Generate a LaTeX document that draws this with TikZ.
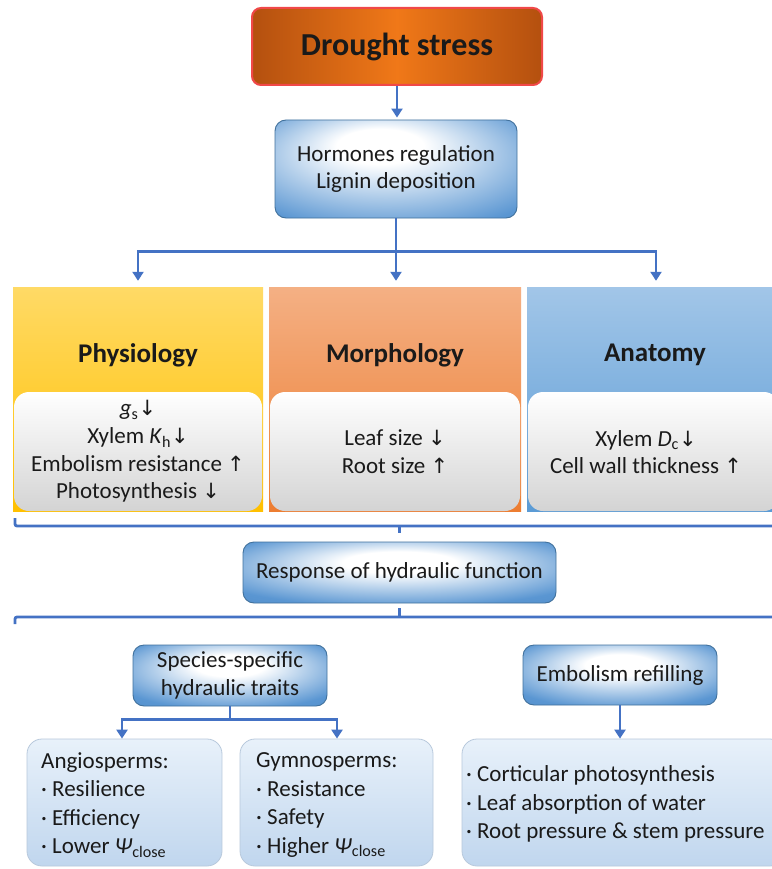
\documentclass[tikz,border=0pt]{standalone}
\usepackage{fontspec}
\setmainfont{Carlito}
\newfontfamily\arrowfont{DejaVu Sans}
\usetikzlibrary{arrows.meta}
\definecolor{connc}{HTML}{4472C4}
\definecolor{boxblue}{HTML}{5A96D2}
\definecolor{boxdeep}{HTML}{4A86C4}
\definecolor{boxborder}{HTML}{41719C}
\definecolor{txt}{HTML}{1A1A1A}
\definecolor{dred}{HTML}{F04848}
\definecolor{ddark}{HTML}{B4500F}
\definecolor{dlight}{HTML}{F07818}
\definecolor{ytop}{HTML}{FFDA66}
\definecolor{ybot}{HTML}{FFC000}
\definecolor{otop}{HTML}{F4B084}
\definecolor{obot}{HTML}{ED7D31}
\definecolor{btop}{HTML}{A2C6E8}
\definecolor{bbot}{HTML}{5B9BD5}
\definecolor{lbtop}{HTML}{E8F1FA}
\definecolor{lbbot}{HTML}{C0D6EE}
\definecolor{lbborder}{HTML}{B8C9DC}
\pgfdeclareradialshading{hormshade}{\pgfpoint{-4bp}{14bp}}{color(0bp)=(white); color(9bp)=(white); color(36bp)=(boxblue); color(50bp)=(boxdeep)}
\pgfdeclareradialshading{wideshade}{\pgfpoint{0bp}{10bp}}{color(0bp)=(white); color(9bp)=(white); color(32bp)=(boxblue); color(50bp)=(boxdeep)}
\newcommand\myDown{{\arrowfont\fontsize{21}{21}\selectfont ↓}}
\newcommand\myUp{{\arrowfont\fontsize{21}{21}\selectfont ↑}}
\begin{document}
\begin{tikzpicture}[x=1pt,y=-1pt,
  every node/.style={text=txt},
  link/.style={draw=connc, line width=2.8pt},
  arr/.style={link, -{Triangle[width=11pt,length=9pt]}},
  body/.style={font=\fontsize{23}{27.7}\selectfont, align=center},
  drought/.style={rounded corners=9pt, draw=dred, line width=2pt,
    left color=ddark, right color=ddark, middle color=dlight,
    minimum width=290pt, minimum height=77pt, inner sep=0pt,
    font=\fontsize{32}{38}\selectfont\bfseries},
  bluebox/.style={rounded corners=11pt, draw=boxborder, line width=0.9pt,
    shade, shading=wideshade, inner sep=0pt, body},
  panel/.style={inner sep=0pt, minimum height=224pt},
  ptitle/.style={font=\fontsize{27}{32}\selectfont\bfseries},
  innerbox/.style={rounded corners=15pt, top color=white, bottom color=black!17,
    minimum height=119pt, inner sep=0pt, body},
  lightbox/.style={rounded corners=15pt, draw=lbborder, line width=0.8pt,
    top color=lbtop, bottom color=lbbot, inner sep=0pt, minimum height=127pt},
  ltext/.style={font=\fontsize{23}{28.5}\selectfont, align=left, anchor=west, inner sep=0pt}
]
\fill[white] (0,0) rectangle (771,869);
\useasboundingbox (0,0) rectangle (771,869);

% top
\node[drought] (drought) at (397,46.5) {Drought stress};
\node[bluebox, shading=hormshade, minimum width=242pt, minimum height=98pt] (horm) at (396,169)
  {Hormones regulation\\Lignin deposition};

% panels
\node[panel, top color=ytop, bottom color=ybot, minimum width=250pt] (phys) at (138,399) {};
\node[panel, top color=otop, bottom color=obot, minimum width=252pt] (morph) at (395,399) {};
\node[panel, top color=btop, bottom color=bbot, minimum width=252pt] (anat) at (653,399) {};
\node[ptitle] (physT) at (138,355) {Physiology};
\node[ptitle] (morphT) at (395,355) {Morphology};
\node[ptitle] (anatT) at (655,355) {Anatomy};

\node[innerbox, minimum width=248pt] (physI) at (138,451.5)
  {\textit{g}\textsubscript{s}\myDown\\Xylem \textit{K}\textsubscript{h}\myDown\\Embolism resistance \myUp\\Photosynthesis \myDown};
\node[innerbox, minimum width=250pt] (morphI) at (395,451.5)
  {Leaf size \myDown\\Root size \myUp};
\node[innerbox, minimum width=251pt] (anatI) at (653.5,451.5) {};
\node[body, inner sep=0pt] (anatX) at (646,452)
  {Xylem \textit{D}\textsubscript{c}\myDown\\Cell wall thickness \myUp};

% connectors top
\draw[arr, shorten >=2pt] (drought.south) -- (drought.south |- horm.north);
\draw[link] (horm.south) -- ++(0,33) coordinate (hj);
\draw[arr, shorten >=6pt] (hj) -| (phys.north);
\draw[arr, shorten >=6pt] (hj) -- (hj |- morph.north);
\draw[arr, shorten >=6pt] (hj) -| ([xshift=3pt]anat.north);

% brace 1 and response
\node[bluebox, minimum width=313pt, minimum height=61pt] (resp) at (399.5,572.5) {Response of hydraulic function};
\coordinate (b1a) at (15,518);
\coordinate (b1b) at (790,526);
\draw[link, rounded corners=2pt] (b1a) |- (b1b);
\draw[link] (resp.north |- b1b) -- ++(0,7);

\coordinate (b2a) at (15,624);
\coordinate (b2b) at (790,617);
\draw[link, rounded corners=2pt] (b2a) |- (b2b);
\draw[link] (resp.south |- b2b) -- ++(0,-9);

% second level
\node[bluebox, minimum width=194pt, minimum height=61pt] (spec) at (230,675.5) {Species-specific\\hydraulic traits};
\node[bluebox, minimum width=194pt, minimum height=60pt] (emb) at (620,675) {Embolism refilling};

\node[lightbox, minimum width=195pt] (angio) at (124.5,802.5) {};
\node[lightbox, minimum width=193pt] (gymno) at (336.5,802.5) {};
\node[lightbox, minimum width=323pt] (rbox) at (623.5,802.5) {};

\node[ltext] (angioT) at (41,805) {Angiosperms:\\· Resilience\\· Efficiency\\· Lower \textit{Ψ}\textsubscript{close}};
\node[ltext] (gymnoT) at (256,805) {Gymnosperms:\\· Resistance\\· Safety\\· Higher \textit{Ψ}\textsubscript{close}};
\node[ltext] (rboxT) at (466,804) {· Corticular photosynthesis\\· Leaf absorption of water\\· Root pressure \& stem pressure};

\draw[link] (spec.south) -- ++(0,13) coordinate (sj);
\draw[arr] (sj) -| ([xshift=-2.5pt]angio.north);
\draw[arr] (sj) -| ([xshift=0.5pt]gymno.north);
\draw[arr] (emb.south) -- (emb.south |- rbox.north);
\end{tikzpicture}
\end{document}
